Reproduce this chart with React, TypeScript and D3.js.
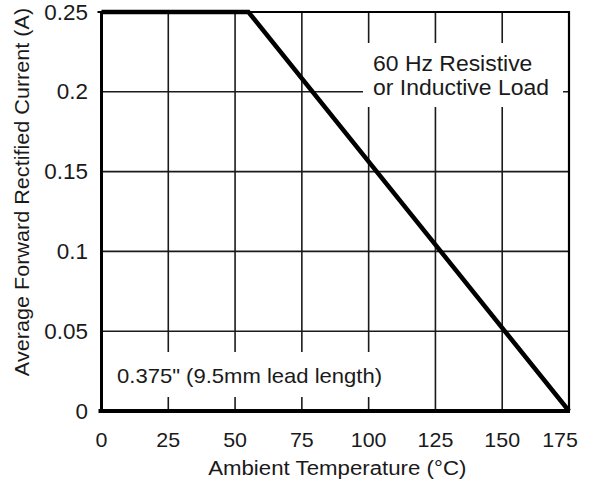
import React, { useEffect, useRef } from "react";
import * as d3 from "d3";

// derating curve: flat at rated current, then linear down to zero at 175 °C
const tempPoints = [0, 55, 175];
const currentPoints = [0.25, 0.25, 0];

const xTicks = [0, 25, 50, 75, 100, 125, 150, 175];
const yTicks = [0, 0.05, 0.1, 0.15, 0.2, 0.25];
const yTickLabels = ["0", "0.05", "0.1", "0.15", "0.2", "0.25"];

const noteLines = ["60 Hz Resistive", "or Inductive Load"];
const leadNote = "0.375\" (9.5mm lead length)";

const W = 590;
const H = 491;
const FONT = "'Liberation Sans', Arial, Helvetica, sans-serif";

export default function App() {
  const ref = useRef<SVGSVGElement | null>(null);

  useEffect(() => {
    const margin = { top: 12, right: 21, bottom: 80, left: 101.5 };
    const x = d3.scaleLinear().domain([0, 175]).range([margin.left, W - margin.right]);
    const y = d3.scaleLinear().domain([0, 0.25]).range([H - margin.bottom, margin.top]);

    const svg = d3.select(ref.current);
    svg.selectAll("*").remove();
    svg.attr("width", W).attr("height", H);

    svg.append("rect").attr("width", W).attr("height", H).attr("fill", "#fff");

    const x0 = x(0), x1 = x(175), y0 = y(0), y1 = y(0.25);

    // grid
    const grid = svg.append("g").attr("stroke", "#1a1a1a").attr("stroke-width", 1.6);
    grid
      .selectAll("line.v")
      .data(xTicks.slice(1, -1))
      .enter()
      .append("line")
      .attr("x1", (d) => x(d))
      .attr("x2", (d) => x(d))
      .attr("y1", y1)
      .attr("y2", y0);
    grid
      .selectAll("line.h")
      .data(yTicks.slice(1, -1))
      .enter()
      .append("line")
      .attr("x1", x0)
      .attr("x2", x1)
      .attr("y1", (d) => y(d))
      .attr("y2", (d) => y(d));

    // white boxes behind the notes
    svg.append("rect").attr("x", 363).attr("y", 43).attr("width", 200).attr("height", 64).attr("fill", "#fff");
    svg.append("rect").attr("x", x0 + 3).attr("y", 352).attr("width", 292).attr("height", 45).attr("fill", "#fff");

    // frame
    const frame = svg.append("g").attr("stroke", "#000").attr("fill", "none");
    frame.append("line").attr("x1", x0 - 4).attr("x2", x1).attr("y1", y1).attr("y2", y1).attr("stroke-width", 2);
    frame.append("line").attr("x1", x0).attr("x2", x0).attr("y1", y1).attr("y2", y0).attr("stroke-width", 3);
    frame.append("line").attr("x1", x1).attr("x2", x1).attr("y1", y1 - 1).attr("y2", y0).attr("stroke-width", 2.2);
    frame.append("line").attr("x1", x0 - 3).attr("x2", x1 + 1).attr("y1", y0).attr("y2", y0).attr("stroke-width", 4);

    // derating curve
    const line = d3
      .line<number>()
      .x((_, i) => x(tempPoints[i]))
      .y((d) => y(d));
    svg
      .append("path")
      .datum(currentPoints)
      .attr("d", line)
      .attr("fill", "none")
      .attr("stroke", "#000")
      .attr("stroke-width", 4.5)
      .attr("stroke-linejoin", "miter");

    const text = (
      tx: number,
      ty: number,
      str: string,
      size: number,
      anchor: string,
      sx = 1,
      rotate = 0,
    ) =>
      svg
        .append("text")
        .attr("transform", `translate(${tx},${ty}) rotate(${rotate}) scale(${sx},1)`)
        .attr("text-anchor", anchor)
        .attr("font-family", FONT)
        .attr("font-size", size)
        .attr("fill", "#1a1a1a")
        .text(str);

    // tick labels
    xTicks.forEach((t) => text(Math.min(x(t), W - 30), 447, String(t), 21, "middle", 1.02));
    yTicks.forEach((t, i) => text(88, y(t) + 7.5, yTickLabels[i], 22, "end", 1.02));

    // axis titles
    text((x0 + x1) / 2 + 2, 475, "Ambient Temperature (°C)", 21, "middle", 1.06);
    text(29, 192, "Average Forward Rectified Current (A)", 21, "middle", 1.03, -90);

    // notes
    noteLines.forEach((s, i) => text(373, 71 + i * 24, s, 22.5, "start", 1.02));
    text(117, 383, leadNote, 21, "start", 1.05);
  }, []);

  return (
    <svg
      ref={ref}
      style={{ position: "absolute", left: 0, top: 0, display: "block" }}
    />
  );
}
